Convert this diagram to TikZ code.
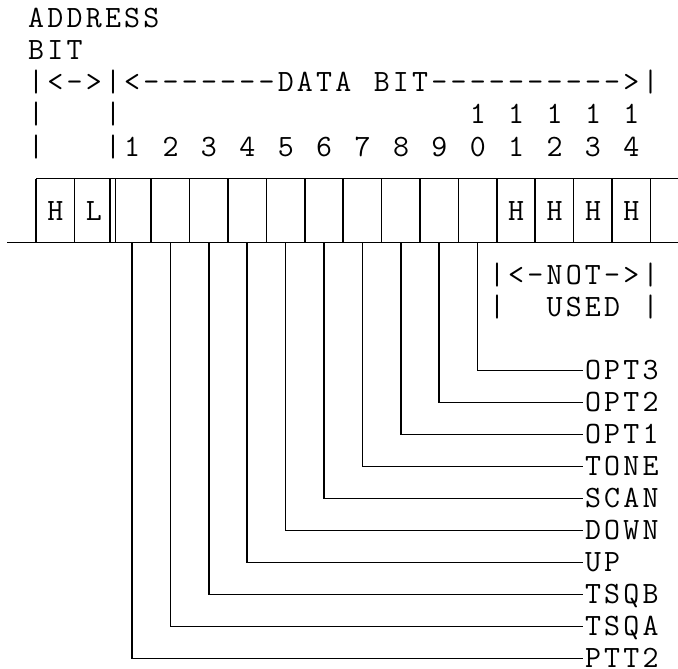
\documentclass[tikz,border=0pt]{standalone}
\usetikzlibrary{calc}
% one fixed-width cell per character, so every string keeps to the column grid
\newcommand\monocell[1]{\makebox[19.2pt][c]{#1}}
\def\monostr#1{\monostep#1\relax}
\def\monostep#1{\ifx#1\relax\else\monocell{#1}\expandafter\monostep\fi}
\begin{document}
\begin{tikzpicture}[x=1pt,y=-1pt,
  txt/.style={inner sep=0pt, anchor=base west, font=\ttfamily\fontsize{31}{31}\selectfont},
  sig/.style={inner sep=0pt, anchor=west, text height=18.9pt, text depth=0pt,
              font=\ttfamily\fontsize{31}{31}\selectfont},
  wire/.style={line width=1.7pt, line join=miter},
  frame/.style={line width=1.7pt}]
\useasboundingbox (0,0) rectangle (678,669);

% header text (column c starts at 26.4+19.2c, row r baseline at 28+32r)
\node[txt] (addr)  at (26.4, 28) {\monostr{ADDRESS}};
\node[txt] (abit)  at (26.4, 60) {\monostr{BIT}};
\node[txt] (range) at (26.4, 92) {\monostr{|<->|<-------DATA~BIT---------->|}};
\node[txt] (bar3a) at (26.4, 124) {\monocell{|}};
\node[txt] (bar3b) at (26.4+19.2*4, 124) {\monocell{|}};
\foreach \c in {23,25,27,29,31}
  \node[txt] (ten\c) at (26.4+19.2*\c, 124) {\monocell{1}};
\node[txt] (bar4a) at (26.4, 156) {\monocell{|}};
\node[txt] (units) at (26.4+19.2*4, 156) {\monostr{|1~2~3~4~5~6~7~8~9~0~1~2~3~4}};

% register frame
\draw[frame] (36,178.5) -- (678,178.5);
\draw[frame] (7.2,242.5) -- (678,242.5);
\foreach \c in {0,2,6,8,10,12,14,16,18,20,22,24,26,28,30,32}
  \draw[frame] (36+19.2*\c,178.5) -- (36+19.2*\c,242.5);
\draw[frame] (110.2,178.5) -- (110.2,242.5);
\draw[frame] (115.4,178.5) -- (115.4,242.5);

% fixed bit values
\node[txt] (ah) at (26.4+19.2*1, 220) {\monocell{H}};
\node[txt] (al) at (26.4+19.2*3, 220) {\monocell{L}};
\foreach \c in {25,27,29,31}
  \node[txt] (fix\c) at (26.4+19.2*\c, 220) {\monocell{H}};

% unused bits note
\node[txt] (notused) at (26.4+19.2*24, 284) {\monostr{|<-NOT->|}};
\node[txt] (ubarl)   at (26.4+19.2*24, 316) {\monocell{|}};
\node[txt] (used)    at (26.4+19.2*27, 316) {\monostr{USED}};
\node[txt] (ubarr)   at (26.4+19.2*32, 316) {\monocell{|}};

% signal names, one row each
\foreach \k/\name in {10/OPT3,9/OPT2,8/OPT1,7/TONE,6/SCAN,5/DOWN,4/UP,3/TSQB,2/TSQA,1/PTT2}{
  \node[sig] (sig\k) at (583.2, 18.5+32*21-32*\k) {\expandafter\monostr\expandafter{\name}};
  \coordinate (bit\k) at (93.6+38.4*\k, 242.5);
  \draw[wire] (bit\k) |- (sig\k.west);
}
\end{tikzpicture}
\end{document}
